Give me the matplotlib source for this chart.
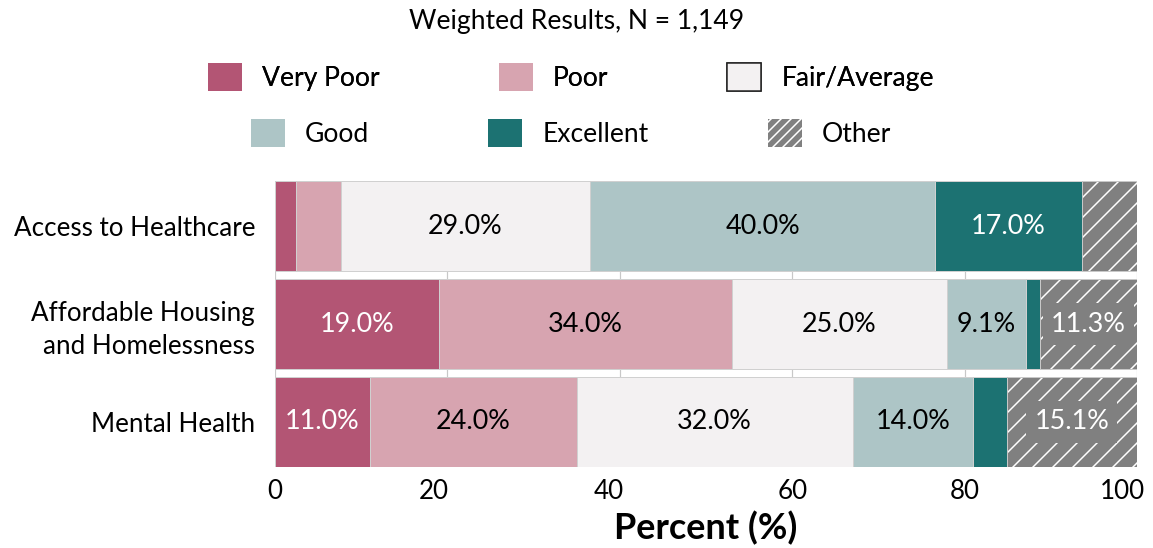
import numpy as np
import matplotlib.pyplot as plt
import matplotlib.transforms as mtransforms
from matplotlib.patches import Patch

# data
categories = ['Access to Healthcare', 'Affordable Housing\nand Homelessness', 'Mental Health']
very_poor = [2.4, 19.0, 11.0]
poor = [5.2, 34.0, 24.0]
fair = [29.0, 25.0, 32.0]
good = [40.0, 9.1, 14.0]
excellent = [17.0, 1.6, 3.9]
other = [6.4, 11.3, 15.1]
xticks = [0, 20, 40, 60, 80, 100]

names = ['Very Poor', 'Poor', 'Fair/Average', 'Good', 'Excellent', 'Other']
colors = ['#B35574', '#D7A4B0', '#F3F1F2', '#ADC5C6', '#1C7272', '#808080']
text_colors = ['white', 'black', 'black', 'black', 'white', 'white']

W, H, DPI = 1153, 548, 60


def pt(px):
    # pixel size -> points at this dpi
    return px * 72 / DPI


plt.rcParams['font.family'] = ['Lato', 'DejaVu Sans']
plt.rcParams['hatch.linewidth'] = pt(1.5)

fig = plt.figure(figsize=(W / DPI, H / DPI), dpi=DPI)
ax = fig.add_axes([275 / W, 1 - 467 / H, 862 / W, 286 / H])

y = np.arange(len(categories))
left = np.zeros(len(categories))
for name, vals, col, tc in zip(names, [very_poor, poor, fair, good, excellent, other], colors, text_colors):
    vals = np.array(vals)
    if name == 'Other':
        bars = ax.barh(y, vals, left=left, height=0.92, color=col, edgecolor='white',
                       linewidth=0, hatch='/', zorder=2)
        ax.barh(y, vals, left=left, height=0.92, fill=False, edgecolor='#c8c8c8',
                linewidth=pt(1), zorder=3)
    else:
        bars = ax.barh(y, vals, left=left, height=0.92, color=col, edgecolor='#d0d0d0',
                       linewidth=pt(1), zorder=2)
    labels = [f'{v:.1f}%' if v >= 9 else '' for v in vals]
    kw = {}
    if name == 'Other':
        kw['bbox'] = dict(boxstyle='square,pad=0.3', fc=col, ec='none')
    ax.bar_label(bars, labels=labels, label_type='center', color=tc, fontsize=pt(27),
                 zorder=4, **kw)
    left += vals

ax.set_xlim(0, 100)
ax.set_ylim(2.46, -0.46)
ax.set_xticks(xticks)
ax.set_yticks(y)
ax.set_yticklabels(categories, linespacing=1.4)
ax.grid(axis='x', color='#c8c8c8', linewidth=pt(1.2), zorder=0)
ax.set_axisbelow(True)
for s in ax.spines.values():
    s.set_visible(False)
ax.tick_params(axis='x', length=0, labelsize=pt(26), pad=pt(12))
ax.tick_params(axis='y', length=0, labelsize=pt(26), pad=pt(20))

# nudge x tick labels like the original (last one kept inside the figure)
shifts = [0, -14, -11, 0, 0, -15]
for lab, dx in zip(ax.get_xticklabels(), shifts):
    lab.set_transform(lab.get_transform() + mtransforms.ScaledTranslation(dx / DPI, 0, fig.dpi_scale_trans))

ax.set_xlabel('Percent (%)', fontsize=pt(36), fontweight='bold', labelpad=pt(7))

fig.text(0.5, 1 - 22 / H, 'Weighted Results, N = 1,149', ha='center', va='center', fontsize=pt(26.5))

handles = []
for name, col in zip(names, colors):
    if name == 'Other':
        handles.append(Patch(facecolor=col, edgecolor='white', linewidth=0, hatch='//', label=name))
    elif name == 'Fair/Average':
        handles.append(Patch(facecolor=col, edgecolor='#222222', linewidth=pt(1.5), label=name))
    else:
        handles.append(Patch(facecolor=col, edgecolor='none', label=name))

leg_kw = dict(loc='center', ncol=3, frameon=False, fontsize=pt(26.5), handlelength=1.28,
              handleheight=1.28, handletextpad=0.75, columnspacing=4.5, borderpad=0)
leg1 = fig.legend(handles=handles[:3], bbox_to_anchor=(571 / W, 1 - 77 / H), **leg_kw)
fig.add_artist(leg1)
fig.legend(handles=handles[3:], bbox_to_anchor=(571 / W, 1 - 133 / H), **leg_kw)

fig.savefig('out.png', dpi=DPI)
